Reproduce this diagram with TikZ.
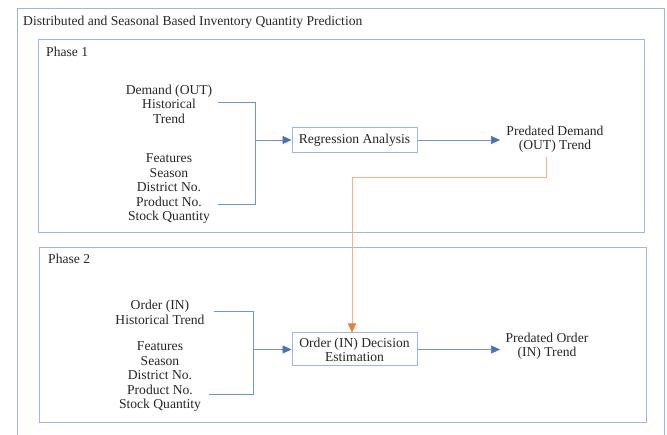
\documentclass[tikz,border=0pt]{standalone}
\usepackage{fontspec}
\setmainfont{Liberation Serif}
\usetikzlibrary{arrows.meta}
\definecolor{boxblue}{HTML}{9DB5E0}
\definecolor{lineblue}{HTML}{6F93D3}
\definecolor{headblue}{HTML}{4472C4}
\definecolor{orangeline}{HTML}{F4B183}
\definecolor{orangehead}{HTML}{ED7D31}
\definecolor{txt}{HTML}{262626}
\tikzset{
  frame/.style={draw=boxblue, line width=0.9pt},
  lbl/.style={text=txt, font=\fontsize{13.6}{14.5}\selectfont, inner sep=0pt},
  txtblock/.style={lbl, align=center},
  procbox/.style={draw=boxblue, line width=1pt, fill=white, text=txt, font=\fontsize{13.6}{14.2}\selectfont, align=center, minimum width=125pt, inner sep=0pt},
  conn/.style={draw=lineblue, line width=0.7pt},
  arr/.style={conn, -{Triangle[length=9pt,width=8pt,color=headblue]}},
  oarr/.style={draw=orangeline, line width=0.9pt, -{Triangle[length=9pt,width=8pt,color=orangehead]}}
}
\begin{document}
\begin{tikzpicture}[x=1pt,y=-1pt]
\useasboundingbox (0,0) rectangle (667,435);
% outer frame (open at bottom)
\draw[frame] (17,440) -- (17,8) -- (664,8) -- (664,440);
\node[lbl, anchor=west] (title) at (23,22) {Distributed and Seasonal Based Inventory Quantity Prediction};
% phase frames
\draw[frame] (38,39) rectangle (644,232);
\draw[frame] (39,247) rectangle (646,422);
\node[lbl, anchor=west] (ph1) at (46,52) {Phase 1};
\node[lbl, anchor=west] (ph2) at (48,259) {Phase 2};

% ---------- Phase 1 ----------
\node[txtblock] (dem) at (169,104) {Demand (OUT)\\Historical\\Trend};
\node[txtblock] (feat1) at (169,189) {Features\\Season\\District No.\\Product No.\\Stock Quantity};
\node[procbox, minimum height=25pt] (reg) at (354.5,140) {Regression Analysis};
\node[txtblock] (pred1) at (555,139) {Predated Demand\\(OUT) Trend};

\coordinate (b1a) at (218,102);
\coordinate (b1b) at (255,102);
\coordinate (b1c) at (255,204);
\coordinate (b1d) at (218,204);
\coordinate (b1m) at (255,140);
\draw[conn] (b1a) -- (b1b) -- (b1c) -- (b1d);
\draw[arr] (b1m) -- (reg.west);
\coordinate (p1in) at (500,140);
\draw[arr] (reg.east) -- (p1in);

% ---------- Phase 2 ----------
\node[txtblock] (ord) at (160,312.5) {Order (IN)\\Historical Trend};
\node[txtblock] (feat2) at (160,377) {Features\\Season\\District No.\\Product No.\\Stock Quantity};
\node[procbox, minimum height=33pt] (dec) at (354.5,349.5) {Order (IN) Decision\\Estimation};
\node[txtblock] (pred2) at (547,346) {Predated Order\\(IN) Trend};

\coordinate (b2a) at (214,311);
\coordinate (b2b) at (253,311);
\coordinate (b2c) at (253,394);
\coordinate (b2d) at (209,394);
\coordinate (b2m) at (253,349.5);
\draw[conn] (b2a) -- (b2b) -- (b2c) -- (b2d);
\draw[arr] (b2m) -- (dec.west);
\coordinate (p2in) at (500,349.5);
\draw[arr] (dec.east) -- (p2in);

% ---------- orange link ----------
\coordinate (o1) at (546,157);
\coordinate (o2) at (546,177);
\coordinate (o3) at (352,177);
\draw[oarr] (o1) -- (o2) -- (o3) -- (o3 |- dec.north);
\end{tikzpicture}
\end{document}
